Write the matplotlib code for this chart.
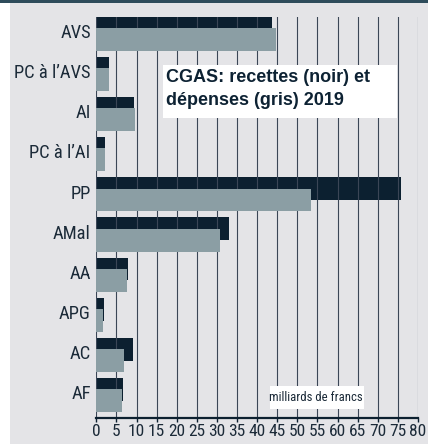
import matplotlib
matplotlib.use("Agg")
import matplotlib.pyplot as plt
from matplotlib.patches import Rectangle
import numpy as np

# data (milliards de francs), 2019
categories = ["AVS", "PC à l\u2019AVS", "AI", "PC à l\u2019AI", "PP", "AMal", "AA", "APG", "AC", "AF"]
recettes = [43.7, 3.1, 9.3, 2.2, 75.8, 32.9, 8.0, 1.8, 9.1, 6.6]
depenses = [44.7, 3.1, 9.6, 2.2, 53.4, 30.7, 7.6, 1.7, 6.9, 6.4]
xticks = list(range(0, 85, 5))

dark = "#0c2030"
grey_bar = "#8b9ea4"
panel = "#e4e4e7"
txt = "#1b2a38"
narrow = ["Roboto Condensed", "Roboto", "DejaVu Sans"]

W, H = 428, 444
fig = plt.figure(figsize=(W / 100, H / 100), dpi=100)
fig.patch.set_facecolor("white")
fig.add_artist(Rectangle((10 / W, 0), 1 - 10 / W, 1 - 3 / H, transform=fig.transFigure,
                         facecolor=panel, edgecolor="none", zorder=-10))
fig.add_artist(Rectangle((0, 1 - 3 / H), 1, 3 / H, transform=fig.transFigure,
                         facecolor="#2e4c5b", edgecolor="none", zorder=-10))

ax = fig.add_axes([96.3 / W, 1 - 418 / H, (418 - 96.3) / W, (418 - 17) / H])
ax.set_facecolor("none")

y = np.arange(len(categories))
off = 0.14
h = 0.57
ax.barh(y - off, recettes, height=h, color=dark, zorder=1)
ax.barh(y + off, depenses, height=h, color=grey_bar, zorder=3)

for v in xticks:
    ax.axvline(v, color="#3b4656", lw=0.8, zorder=2)

ax.set_xlim(0, 80)
ax.set_ylim(len(categories) - 1 + 0.576, -0.424)

for s in ["top", "right", "left"]:
    ax.spines[s].set_visible(False)
ax.spines["bottom"].set_color(dark)
ax.spines["bottom"].set_linewidth(1.6)
ax.spines["bottom"].set_zorder(4)

ax.set_xticks(xticks)
ax.set_xticklabels([str(v) for v in xticks], fontfamily=narrow, fontsize=12.5, color=txt)
ax.tick_params(axis="x", length=3, width=1, color=dark, pad=1)
ax.set_yticks(y - 0.07)
ax.set_yticklabels(categories, fontfamily=narrow, fontsize=13.3, color=txt)
ax.tick_params(axis="y", length=0, pad=4)

# title box
fig.add_artist(Rectangle((163 / W, 1 - 118 / H), (397 - 163) / W, (118 - 65) / H,
                         transform=fig.transFigure, facecolor="white", edgecolor="none", zorder=5))
fig.text(166 / W, 1 - 69 / H, "CGAS: recettes (noir) et\nd\u00e9penses (gris) 2019",
         fontfamily=["Liberation Sans", "DejaVu Sans"], fontweight="bold", fontsize=13,
         color="#0d2233", va="top", ha="left", linespacing=1.45, zorder=6)

# unit box
fig.add_artist(Rectangle((270 / W, 1 - 409 / H), (364 - 270) / W, (409 - 386) / H,
                         transform=fig.transFigure, facecolor="white", edgecolor="none", zorder=5))
fig.text(316 / W, 1 - 397.5 / H, "milliards de francs", fontfamily=narrow, fontsize=9.2,
         color=txt, va="center", ha="center", zorder=6)

fig.savefig("out.png", dpi=100)
